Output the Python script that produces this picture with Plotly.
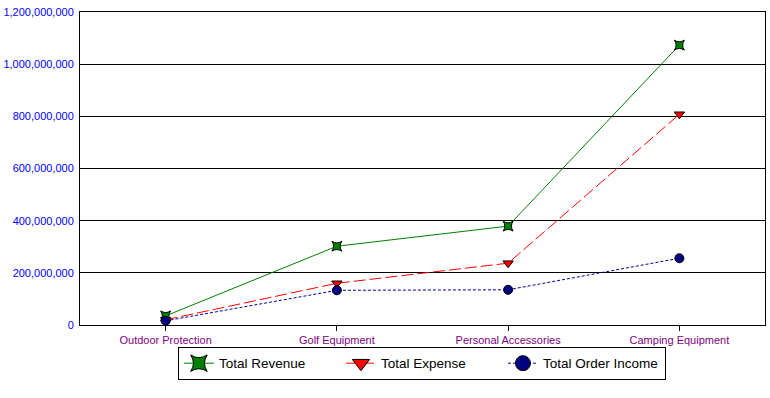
import plotly.graph_objects as go

categories = ["Outdoor Protection", "Golf Equipment", "Personal Accessories", "Camping Equipment"]
revenue = [35e6, 302e6, 379e6, 1073e6]
expense = [20e6, 160e6, 237e6, 808e6]
order_income = [16e6, 133e6, 135e6, 256e6]
y_ticks = [0, 200e6, 400e6, 600e6, 800e6, 1000e6, 1200e6]
y_tick_labels = ["0", "200,000,000", "400,000,000", "600,000,000", "800,000,000", "1,000,000,000", "1,200,000,000"]

series = [
    ("Total Revenue", revenue, dict(color="#008000", width=1, dash="solid"),
     dict(symbol="star-square", color="#008000", line=dict(color="black", width=1))),
    ("Total Expense", expense, dict(color="#ff0000", width=1, dash="12px,4px"),
     dict(symbol="triangle-down", color="#ff0000", line=dict(color="black", width=1))),
    ("Total Order Income", order_income, dict(color="#0000aa", width=1, dash="3px,2px"),
     dict(symbol="circle", color="#000080", line=dict(color="black", width=1))),
]

fig = go.Figure()
for name, vals, line, marker in series:
    fig.add_trace(go.Scatter(x=categories, y=vals, mode="lines+markers", name=name,
                             line=line, marker=dict(size=9, **marker), showlegend=False,
                             hoverinfo="skip"))
for name, vals, line, marker in series:
    fig.add_trace(go.Scatter(x=[None], y=[None], mode="lines+markers", name=name,
                             line=line, marker=dict(size=15, **marker), showlegend=True))

fig.update_layout(
    width=770, height=398, autosize=False,
    margin=dict(l=80, r=5, t=12, b=73),
    paper_bgcolor="white", plot_bgcolor="white",
    font=dict(family="Liberation Sans, Arial, sans-serif", size=11, color="black"),
    legend=dict(orientation="h", x=0.143, xanchor="left", y=-0.07, yanchor="top",
                bordercolor="black", borderwidth=1, bgcolor="white",
                font=dict(size=13.5, color="black"),
                entrywidth=117, entrywidthmode="pixels"),
)
fig.update_xaxes(type="category", range=[-0.5, 3.5], showline=True, linecolor="black", linewidth=1,
                 mirror=True, showgrid=False, ticks="outside", ticklen=5, tickcolor="black",
                 tickfont=dict(color="#800080", size=11), automargin=False)
fig.update_yaxes(range=[0, 1.2e9], tickvals=y_ticks, ticktext=y_tick_labels,
                 showline=True, linecolor="black", linewidth=1, mirror=True,
                 showgrid=True, gridcolor="black", gridwidth=1, zeroline=False,
                 tickfont=dict(color="#0000ff", size=11), ticklabelstandoff=3, automargin=False)

fig.write_html("out.html", config={"responsive": False, "displayModeBar": False},
               post_script="document.body.style.margin='0';document.body.style.padding='0';document.body.style.overflow='hidden';")
